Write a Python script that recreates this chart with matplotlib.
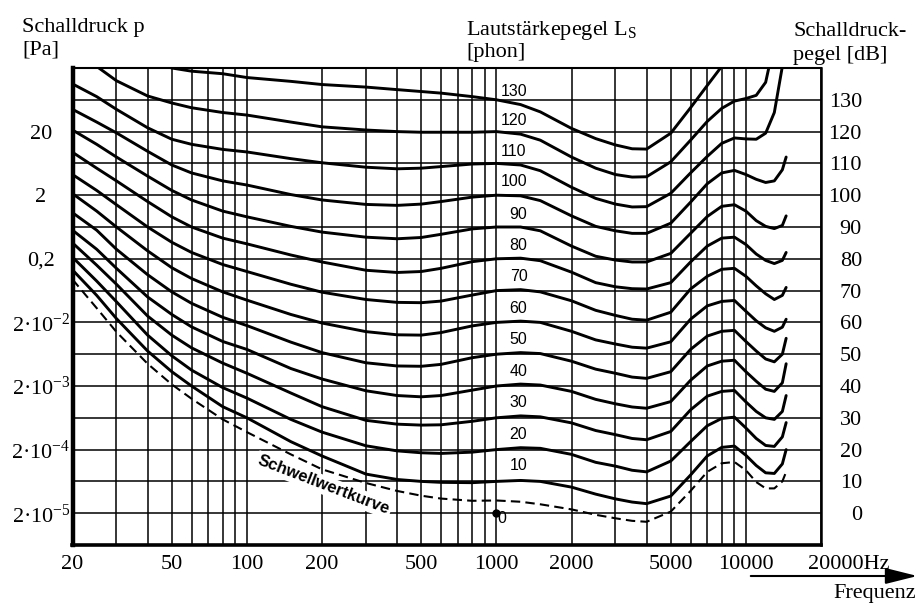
import numpy as np
import matplotlib
matplotlib.use("Agg")
import matplotlib.pyplot as plt
from matplotlib.ticker import FixedLocator, NullFormatter

plt.rcParams["font.family"] = ["Liberation Serif", "DejaVu Serif"]
plt.rcParams["mathtext.fontset"] = "custom"
plt.rcParams["mathtext.rm"] = "Liberation Serif"
plt.rcParams["mathtext.it"] = "Liberation Serif:italic"

nan = np.nan

freq = [20, 25, 30, 40, 50, 60, 80, 100, 150, 200, 300, 400, 500, 600, 800,
        1000, 1250, 1500, 2000, 2500, 3000, 3500, 4000, 5000, 6000, 7000,
        8000, 9000, 10000, 11000, 12000, 13000, 14000, 14500]

# sound pressure level (dB) of each equal loudness curve
phon_130 = [150, 148, 146, 142.5, 140, 139, 138.2, 137, 135.8, 134.8, 134, 133.2, 132.6, 132.1, 131,
            130, 128.5, 126.2, 121, 117.8, 115.8, 114.6, 114.5, 119.5, 127.5, 134.5,
            140.5, 146, nan, nan, nan, nan, nan, nan]
phon_120 = [146, 140.5, 136, 131.2, 129, 127.5, 126, 125.2, 123, 121.5, 120.5, 120, 119.8, 119.8, 119.8,
            120, 119.2, 117.3, 112, 108.5, 106.5, 105.7, 105.8, 110.5, 117.3, 123.2,
            127.3, 129.6, 130.4, 131.4, 135.5, 148, nan, nan]
phon_110 = [135, 131, 127, 121.2, 117.6, 116, 114.4, 113.6, 111.5, 110.2, 108.8, 108.3, 108.5, 109, 109.8,
            110, 109.5, 107.7, 102.5, 99, 97.2, 96.3, 96.4, 100.6, 107, 112.2,
            116.3, 118, 117.7, 117.6, 119.5, 126, 140.5, nan]
phon_100 = [127, 123, 119.6, 113.8, 109.5, 107, 104.5, 103.2, 100.2, 98.5, 97.1, 96.8, 97.2, 98, 99.4,
            100, 99.8, 98.3, 93.5, 90.2, 88.8, 88, 88, 91.2, 97.8, 103.6,
            107, 107.8, 106.5, 105, 104, 104.5, 108, 112]
phon_90 = [120.5, 116, 112, 106, 101.5, 98.5, 95, 93.2, 90.2, 88.4, 86.8, 86.3, 86.7, 87.7, 89.4,
           90, 90, 88.8, 84, 80.8, 79.6, 79, 79, 81.7, 88, 93.3,
           96.5, 97, 95, 92, 90.2, 89.5, 90.5, 93.5]
phon_80 = [113.5, 108.5, 104.5, 98, 93.2, 90, 86.5, 84.7, 81.2, 79, 76.4, 75.7, 76, 77, 79.1,
           80, 80.2, 79.4, 75.8, 72.5, 71.2, 70.6, 70.5, 72.5, 79, 84,
           86.5, 86.8, 84.5, 81.5, 79.5, 78.5, 79.5, 82]
phon_70 = [106.5, 101.5, 97, 90, 85.2, 82, 78.2, 76, 72, 69.5, 67.2, 66.3, 66.2, 66.7, 68.6,
           70, 70.3, 69.6, 66.8, 63.8, 62.2, 61, 60.7, 63.2, 70.5, 74.5,
           76.7, 77, 74.5, 71.5, 69, 67.2, 68.5, 71]
phon_60 = [100.5, 95, 90, 82.5, 77.2, 73.8, 69.6, 67, 62.5, 59.8, 57.1, 56.1, 56, 56.8, 58.9,
           60, 60.4, 60, 57.2, 54.5, 53.2, 52.2, 51.9, 53.9, 61, 65.2,
           66.6, 66.9, 63.5, 60.5, 58.3, 57.2, 58.5, 61]
phon_50 = [94.5, 89, 83, 75, 69.6, 66, 61.6, 59, 53.8, 50.5, 47.3, 46.3, 46.2, 46.8, 48.9,
           50, 50.5, 50.2, 47.8, 45.3, 44, 42.8, 42.4, 44.5, 51.5, 55.7,
           57.2, 57.5, 54, 51, 48.5, 47.6, 50, 55]
phon_40 = [89, 83, 77, 68, 62.5, 58.6, 54, 51.5, 45.5, 42.2, 38.5, 37, 36.6, 37, 38.7,
           40, 40.6, 40.3, 38.3, 35.8, 34.4, 33.4, 33, 35.1, 41.8, 46.3,
           47.8, 48.1, 44.5, 41.5, 39, 38.3, 41, 47]
phon_30 = [85, 78, 72, 62, 56, 52, 47.2, 44, 37.8, 33.5, 29.2, 28, 27.7, 27.8, 28.9,
           30, 30.6, 30.3, 28.4, 26, 24.7, 23.5, 23.1, 25.7, 32.5, 36.8,
           38.3, 38.6, 35, 32, 30, 29.5, 32, 37]
phon_20 = [80.5, 73, 66.5, 56, 49.5, 45, 39.5, 36.2, 29.5, 25.5, 21.2, 19.6, 19, 18.8, 19.2,
           20, 20.6, 20.4, 18.5, 16, 14.8, 13.5, 13, 16.4, 22.5, 27.5,
           29.8, 30.2, 26.8, 23.5, 21.3, 21, 24, 28.5]
phon_10 = [76.5, 68.5, 61.2, 51, 44.5, 40, 33.5, 30, 22.5, 18, 12.3, 10.6, 10, 9.7, 9.6,
           10, 10.3, 10, 8.2, 6, 4.5, 3.5, 3, 5.4, 12, 18,
           20.7, 21.1, 18.2, 15, 12.7, 12.5, 15.5, 20]
threshold = [73.5, 64.5, 57, 47, 40.5, 36, 29.5, 25.5, 18.5, 13.8, 9.5, 7, 5.5, 4.6, 3.9,
             4, 3.6, 2.8, 1.2, -0.5, -1.6, -2.4, -2.7, 0.5, 7, 13,
             15.7, 16.1, 13.5, 9.8, 7.8, 7.8, 10, 13]

levels = [130, 120, 110, 100, 90, 80, 70, 60, 50, 40, 30, 20, 10]
curves = [phon_130, phon_120, phon_110, phon_100, phon_90, phon_80, phon_70,
          phon_60, phon_50, phon_40, phon_30, phon_20, phon_10]
label_dy = [2.6, 3.6, 3.7, 4.2, 3.9, 4.3, 4.4, 4.4, 4.6, 4.7, 4.9, 4.9, 4.9]

# axis labels
x_ticks = [20, 50, 100, 200, 500, 1000, 2000, 5000, 10000, 20000]
x_labels = ["20", "50", "100", "200", "500", "1000", "2000", "5000", "10000", ""]
pa_ticks = [0, 20, 40, 60, 80, 100, 120]
pa_labels = ["2·10$^{-5}$", "2·10$^{-4}$", "2·10$^{-3}$", "2·10$^{-2}$", "0,2", "2", "20"]
db_ticks = list(range(0, 140, 10))

fig = plt.figure(figsize=(9.22, 6.05), dpi=100)
ax = fig.add_axes([72.5 / 922, 60 / 605, 748.5 / 922, 477 / 605])
ax.set_xscale("log")
ax.set_xlim(20, 20000)
ax.set_ylim(-10, 140)

# grid
grid_f = [m * 10 ** k for k in (1, 2, 3) for m in range(2, 10) if 20 < m * 10 ** k < 20000]
ax.xaxis.set_major_locator(FixedLocator(x_ticks))
ax.xaxis.set_minor_locator(FixedLocator(grid_f))
ax.xaxis.set_minor_formatter(NullFormatter())
ax.set_xticklabels(x_labels)
ax.yaxis.set_major_locator(FixedLocator(pa_ticks))
ax.yaxis.set_minor_locator(FixedLocator(list(range(-10, 141, 10))))
ax.set_yticklabels(pa_labels)
ax.grid(True, which="both", color="black", lw=1.1, zorder=1)
ax.set_axisbelow(True)
ax.tick_params(which="both", length=0)
ax.tick_params(axis="x", labelsize=16, pad=7.5)
ax.tick_params(axis="y", labelsize=16, pad=22.7)
for lbl in ax.get_yticklabels():
    lbl.set_horizontalalignment("center")

ax.spines["left"].set_linewidth(3.2)
ax.spines["bottom"].set_linewidth(2.6)
ax.spines["top"].set_linewidth(1.5)
ax.spines["right"].set_linewidth(1.8)

ax2 = ax.twinx()
ax2.set_ylim(-10, 140)
ax2.set_yticks(db_ticks)
ax2.set_yticklabels([str(v) for v in db_ticks])
ax2.tick_params(axis="y", length=0, labelsize=16, pad=29.5)
for lbl in ax2.get_yticklabels():
    lbl.set_horizontalalignment("right")
for s in ax2.spines.values():
    s.set_visible(False)

# curves
for lev, vals, dy in zip(levels, curves, label_dy):
    ax.plot(freq, vals, color="black", lw=2.1, zorder=3, solid_capstyle="round")
    fx = 1040 if lev >= 100 else 1130
    ax.text(fx, lev + dy, str(lev), fontsize=11.5, family="Liberation Sans",
            ha="left", va="center", zorder=4)
ax.plot(freq, threshold, color="black", lw=1.5, ls=(0, (4.5, 2.5)), zorder=3)

ax.plot([1000], [0], "o", color="black", ms=5, zorder=4)
ax.text(1055, -1.8, "0", fontsize=11.5, family="Liberation Sans", ha="center", va="center", zorder=4)

ax.text(203, 8.9, "Schwellwertkurve", fontsize=12, family="Liberation Sans", fontweight="bold",
        rotation=-21, rotation_mode="anchor", ha="center", va="center", zorder=2,
        bbox=dict(facecolor="white", edgecolor="none", pad=1.5))

ax.annotate("20000Hz", xy=(1, 0), xycoords="axes fraction", xytext=(19.8, -7.5),
            textcoords="offset points", ha="center", va="top", fontsize=16)

# headings
fig.text(22 / 922, 1 - 32 / 605, "Schalldruck p", fontsize=16, va="baseline")
fig.text(22 / 922, 1 - 54 / 605, "[Pa]", fontsize=16, va="baseline")
fig.text(466 / 922, 1 - 35 / 605, "Lautstärkepegel L$_\\mathrm{S}$", fontsize=16, va="baseline")
fig.text(466 / 922, 1 - 57 / 605, "[phon]", fontsize=16, va="baseline")
fig.text(793 / 922, 1 - 36 / 605, "Schalldruck-", fontsize=16, va="baseline")
fig.text(793 / 922, 1 - 60 / 605, "pegel [dB]", fontsize=16, va="baseline")
fig.text(833 / 922, 1 - 598 / 605, "Frequenz", fontsize=16, va="baseline")

ax.annotate("", xy=(0.998, 1 - 576 / 605), xytext=(748 / 922, 1 - 576 / 605),
            xycoords="figure fraction", textcoords="figure fraction",
            arrowprops=dict(arrowstyle="-|>,head_length=1.4,head_width=0.35",
                            lw=1.5, color="black", mutation_scale=14))

fig.savefig("out.png", dpi=100)
